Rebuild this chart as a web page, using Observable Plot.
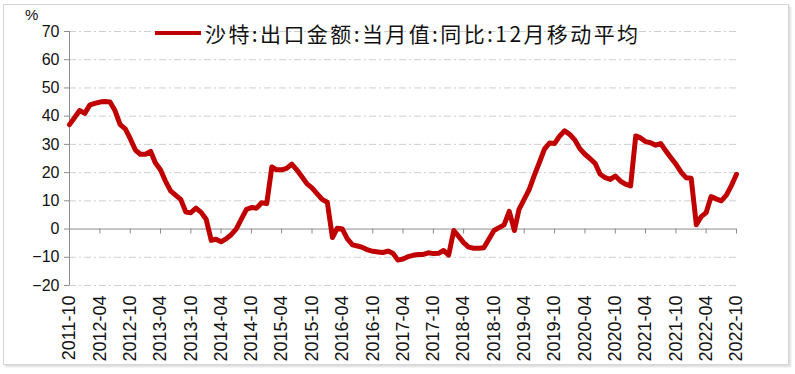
<!DOCTYPE html>
<html>
<head>
<meta charset="utf-8">
<script src="https://cdn.jsdelivr.net/npm/d3@7"></script>
<script src="https://cdn.jsdelivr.net/npm/@observablehq/plot@0.6"></script>
<style>
  html, body { margin: 0; padding: 0; background: #fff; }
  #wrap { position: relative; width: 795px; height: 374px; overflow: hidden; }
  #frame { position: absolute; left: 3px; top: 4px; width: 784px; height: 359px; border: 1px solid #d6d6d6; box-shadow: 2px 2px 2px #dcdcdc; pointer-events: none; }
  #unit { position: absolute; left: 25px; top: 6px; font: 15px "Liberation Sans", Arial, sans-serif; color: #111; }
  #legend { position: absolute; left: 155px; top: 18px; display: flex; align-items: center; }
  #legend .sw { width: 46px; height: 4px; background: #C00000; margin-right: 4px; }
  #legend .tx { font: 21px "Noto Sans CJK SC", sans-serif; color: #111; letter-spacing: 2.4px; white-space: nowrap; }
  #chart { position: absolute; left: 0; top: 0; }
</style>
</head>
<body>
<div id="wrap">
  <div id="chart"></div>
  <div id="frame"></div>
  <div id="unit">%</div>
  <div id="legend"><div class="sw"></div><div class="tx" id="legendText"></div></div>
</div>
<script>
// Series: 沙特:出口金额:当月值:同比:12月移动平均 (%), monthly from 2011-10 to 2022-10
const seriesName = "沙特:出口金额:当月值:同比:12月移动平均";
const startMonth = "2011-10";
const values = [
  37, 39.5, 42, 41, 44, 44.5, 45, 45.2, 45, 42, 37, 35.5,
  32, 28, 26.5, 26.5, 27.5, 23.5, 21, 17, 13.5, 12, 10.5, 6,
  5.8, 7.4, 6, 3.5, -4, -3.6, -4.5, -3.5, -2, 0, 3.5, 7,
  7.6, 7.4, 9.3, 9, 22, 21, 21, 21.5, 23, 21, 18.5, 16,
  14.6, 12.5, 10.5, 9.5, -3, 0.3, 0, -3.5, -5.6, -6, -6.5, -7.4,
  -7.9, -8.1, -8.3, -7.8, -8.7, -11, -10.6, -9.8, -9.3, -9, -9, -8.4,
  -8.7, -8.6, -7.6, -9.2, -0.5, -2.5, -4.8, -6.4, -6.8, -6.8, -6.6, -3.5,
  -0.5, 0.5, 1.5, 6.3, -0.5, 7, 10.5, 14, 19, 23.5, 28.3, 30.5,
  30.3, 33, 34.8, 33.5, 31.5, 28.5, 26.5, 25, 23.3, 19.5, 18.2, 17.6,
  18.8, 17, 15.9, 15.3, 33, 32.3, 31, 30.6, 29.7, 30.3, 27.7, 25.3,
  23, 20.2, 18.2, 18, 1.5, 4.3, 5.8, 11.5, 10.7, 10, 12, 15.5,
  19.4
];
const yTicks = [-20, -10, 0, 10, 20, 30, 40, 50, 60, 70];
const xTickLabels = [
  "2011-10","2012-04","2012-10","2013-04","2013-10","2014-04","2014-10",
  "2015-04","2015-10","2016-04","2016-10","2017-04","2017-10","2018-04",
  "2018-10","2019-04","2019-10","2020-04","2020-10","2021-04","2021-10",
  "2022-04","2022-10"
];

const parse = d3.utcParse("%Y-%m");
const start = parse(startMonth);
const data = values.map((v, i) => ({date: d3.utcMonth.offset(start, i), value: v}));
const xTicks = xTickLabels.map(parse);
const fmt = d3.utcFormat("%Y-%m");

document.getElementById("legendText").textContent = seriesName;

const chart = Plot.plot({
  width: 795,
  height: 374,
  marginLeft: 69,
  marginRight: 59,
  marginTop: 31,
  marginBottom: 89,
  style: {background: "transparent", fontFamily: "'Liberation Sans', Arial, sans-serif", color: "#111"},
  x: {type: "utc", domain: [xTicks[0], xTicks[xTicks.length - 1]]},
  y: {domain: [-20, 70]},
  marks: [
    Plot.ruleY(yTicks.filter(d => d !== 0), {y: d => d, stroke: "#cfcfcf", strokeWidth: 1, strokeDasharray: "7,3,2,3"}),
    Plot.ruleY([0], {stroke: "#8c8c8c", strokeWidth: 1}),
    Plot.ruleX([xTicks[0]], {y1: -20, y2: 70, stroke: "#8c8c8c", strokeWidth: 1}),
    Plot.ruleX(xTicks, {x: d => d, y1: 0, y2: 0, insetBottom: -5, stroke: "#8c8c8c", strokeWidth: 1}),
    Plot.axisY({ticks: yTicks, tickSize: 5, tickPadding: 5, fontSize: 16, label: null, stroke: "#8c8c8c"}),
    Plot.axisX({ticks: xTicks, tickFormat: fmt, tickRotate: -90, tickSize: 0, tickPadding: 10, fontSize: 18, label: null}),
    Plot.lineY(data, {x: "date", y: "value", stroke: "#C00000", strokeWidth: 5, strokeLinejoin: "round"})
  ]
});
document.getElementById("chart").appendChild(chart);
</script>
</body>
</html>
